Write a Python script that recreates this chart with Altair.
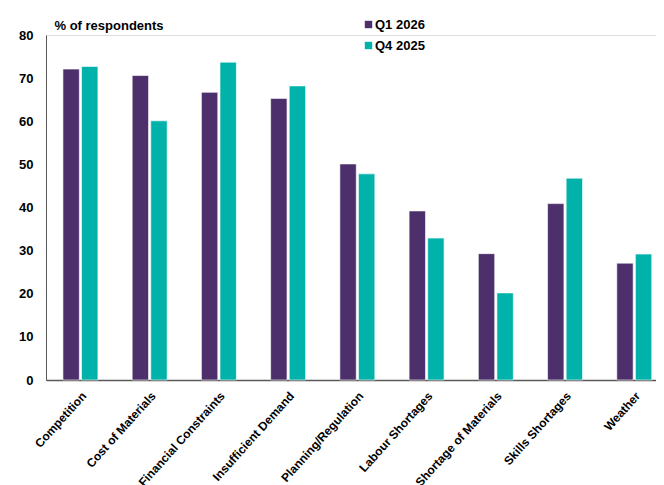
import altair as alt
import pandas as pd

categories = ["Competition", "Cost of Materials", "Financial Constraints", "Insufficient Demand",
              "Planning/Regulation", "Labour Shortages", "Shortage of Materials", "Skills Shortages", "Weather"]
q1_2026 = [72.1, 70.6, 66.7, 65.3, 50.1, 39.2, 29.3, 40.9, 27.1]
q4_2025 = [72.7, 60.1, 73.7, 68.2, 47.8, 32.9, 20.2, 46.8, 29.2]
series = ["Q1 2026", "Q4 2025"]
colors = ["#4D2F6B", "#00B2A9"]

rows = []
for c, a, b in zip(categories, q1_2026, q4_2025):
    rows.append({"cat": c, "series": series[0], "value": a})
    rows.append({"cat": c, "series": series[1], "value": b})
df = pd.DataFrame(rows)

FONT = "Liberation Sans"

chart = alt.Chart(df).mark_bar(stroke="white", strokeWidth=0.6).encode(
    x=alt.X("cat:N", sort=categories,
            scale=alt.Scale(paddingInner=0.495, paddingOuter=0.153, align=0.8),
            axis=alt.Axis(title=None, labelAngle=-48, labelAlign="right", labelBaseline="top",
                          labelFont=FONT, labelFontSize=12,
                          labelFontWeight="bold", labelColor="#000",
                          ticks=False, domainColor="#595959", domainWidth=1.5, labelPadding=10)),
    xOffset=alt.XOffset("series:N", sort=series, scale=alt.Scale(paddingInner=0.12)),
    y=alt.Y("value:Q", scale=alt.Scale(domain=[0, 80]),
            axis=alt.Axis(title="% of respondents", titleAngle=0, titleAlign="left",
                          titleBaseline="alphabetic", titleX=8, titleY=-6,
                          titleFont=FONT, titleFontSize=13, titleFontWeight="bold", titleColor="#000",
                          values=[0, 10, 20, 30, 40, 50, 60, 70, 80],
                          labelFont=FONT, labelFontSize=13, labelFontWeight="bold", labelColor="#000",
                          grid=False, ticks=False, labelPadding=13, domainColor="#595959", domainWidth=1)),
    color=alt.Color("series:N", sort=series,
                    scale=alt.Scale(domain=series, range=colors),
                    legend=alt.Legend(title=None, orient="none", legendX=316, legendY=-17,
                                      symbolType="square", symbolSize=55, symbolStrokeWidth=0,
                                      labelFont=FONT, labelFontSize=13, labelFontWeight="bold",
                                      labelColor="#000", rowPadding=7, labelOffset=0)),
).properties(width=610, height=345)

chart = chart.configure_view(stroke=None).configure(background="white", padding={"left": 10, "top": 10, "right": 0, "bottom": 5})

chart.save("out.html", embed_options={"renderer": "svg", "actions": False})
